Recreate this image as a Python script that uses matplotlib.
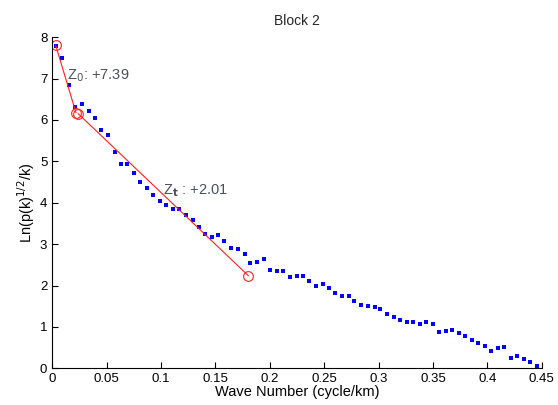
import matplotlib.pyplot as plt
import numpy as np

plt.rcParams['font.family'] = ['Liberation Sans', 'DejaVu Sans']

# spectrum points (wave number, ln(p(k)^1/2 / k))
wave_k = [0.0032, 0.0093, 0.0154, 0.0207, 0.0271, 0.0334, 0.0395, 0.0447, 0.0510, 0.0573,
          0.0637, 0.0690, 0.0752, 0.0810, 0.0871, 0.0929, 0.0988, 0.1049, 0.1113, 0.1170,
          0.1228, 0.1291, 0.1352, 0.1406, 0.1466, 0.1528, 0.1582, 0.1643, 0.1705, 0.1769,
          0.1821, 0.1885, 0.1947, 0.2005, 0.2063, 0.2121, 0.2186, 0.2247, 0.2301, 0.2363,
          0.2425, 0.2486, 0.2541, 0.2602, 0.2664, 0.2725, 0.2778, 0.2841, 0.2903, 0.2964,
          0.3017, 0.3080, 0.3141, 0.3201, 0.3258, 0.3319, 0.3381, 0.3436, 0.3497, 0.3558,
          0.3619, 0.3675, 0.3736, 0.3797, 0.3858, 0.3914, 0.3975, 0.4036, 0.4097, 0.4153,
          0.4214, 0.4275, 0.4336, 0.4392, 0.4453]
ln_amp = [7.79, 7.50, 6.84, 6.31, 6.38, 6.21, 6.05, 5.77, 5.64, 5.23,
          4.93, 4.93, 4.72, 4.49, 4.35, 4.19, 4.05, 3.95, 3.84, 3.84,
          3.70, 3.58, 3.42, 3.25, 3.18, 3.21, 3.07, 2.91, 2.89, 2.75,
          2.54, 2.56, 2.65, 2.37, 2.35, 2.35, 2.21, 2.23, 2.23, 2.11,
          1.99, 2.04, 1.95, 1.81, 1.74, 1.74, 1.62, 1.53, 1.50, 1.48,
          1.43, 1.32, 1.25, 1.16, 1.11, 1.11, 1.07, 1.11, 1.07, 0.88,
          0.90, 0.93, 0.85, 0.79, 0.69, 0.60, 0.55, 0.43, 0.48, 0.51,
          0.25, 0.30, 0.22, 0.15, 0.06]

# fitted segments (deep source / shallow source)
fit0_k = [0.0032, 0.0218]
fit0_y = [7.81, 6.18]
fit1_k = [0.0240, 0.1802]
fit1_y = [6.15, 2.24]

xticks = [0, 0.05, 0.1, 0.15, 0.2, 0.25, 0.3, 0.35, 0.4, 0.45]
xticklabels = ['0', '0.05', '0.1', '0.15', '0.2', '0.25', '0.3', '0.35', '0.4', '0.45']
yticks = list(range(0, 9))

fig = plt.figure(figsize=(5.58, 4.05), dpi=100)
ax = fig.add_axes([0.0935, 0.0906, 0.8775, 0.8175])

ax.plot(wave_k, ln_amp, 's', color='#0000ff', markersize=3.4, markeredgewidth=0)
for fk, fy in [(fit0_k, fit0_y), (fit1_k, fit1_y)]:
    ax.plot(fk, fy, '-', color='#ff2020', linewidth=0.8)
    ax.plot(fk, fy, 'o', color='#ff2020', mfc='none', markersize=7, markeredgewidth=0.8)

ax.text(0.0133, 7.08, r'Z$_0$: +7.39', fontsize=10.5, color='#4a4f5c', va='center')
ax.text(0.102, 4.29, r'Z$_\mathbf{t}$ : +2.01', fontsize=10.5, color='#4a4f5c', va='center')

ax.set_xlim(0, 0.45)
ax.set_ylim(0, 8)
ax.set_xticks(xticks)
ax.set_xticklabels(xticklabels)
ax.set_yticks(yticks)
ax.tick_params(direction='in', length=4, labelsize=9.5, colors='black')
ax.spines['top'].set_visible(False)
ax.spines['right'].set_visible(False)

ax.set_title('Block 2', fontsize=10, pad=9, color='#262626')
ax.set_xlabel('Wave Number (cycle/km)', fontsize=10.5, labelpad=0)
ax.set_ylabel(r'Ln(p(k)$^{1/2}$/k)', fontsize=10.5, labelpad=2)

plt.savefig('out.png', dpi=100)
